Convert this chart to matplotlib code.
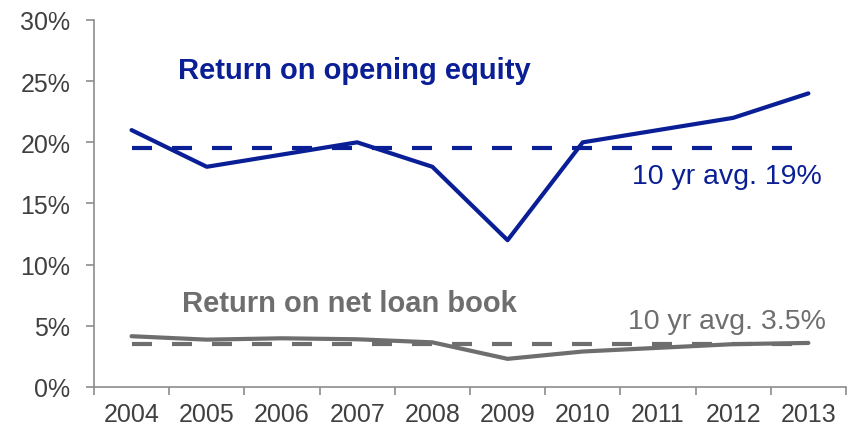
import numpy as np
import matplotlib
matplotlib.use("Agg")
import matplotlib.pyplot as plt
from matplotlib.ticker import FixedLocator, FuncFormatter

years = ["2004", "2005", "2006", "2007", "2008", "2009", "2010", "2011", "2012", "2013"]
equity_return = [21.0, 18.0, 19.0, 20.0, 18.0, 12.0, 20.0, 21.0, 22.0, 24.0]
loan_return = [4.15, 3.87, 3.98, 3.9, 3.65, 2.3, 2.9, 3.2, 3.5, 3.6]
equity_avg = np.mean(equity_return)
loan_avg = np.mean(loan_return)

BLUE = "#0a1e96"
GREY = "#6e6e6e"
AXIS = "#8c8c8c"
TEXT = "#404040"

plt.rcParams["font.family"] = ["Liberation Sans", "DejaVu Sans"]

fig = plt.figure(figsize=(8.48, 4.31), dpi=100)
ax = fig.add_axes([0.1108, 0.0998, 0.8868, 0.8515])

x = np.arange(len(years))
lw = 3.0
dash = (4.8, 4.8)

ax.plot(x, [equity_avg] * len(x), color=BLUE, lw=lw, dashes=dash, zorder=2)
ax.plot(x, equity_return, color=BLUE, lw=lw, solid_joinstyle="round",
        solid_capstyle="round", zorder=3)
ax.plot(x, [loan_avg] * len(x), color=GREY, lw=lw, dashes=dash, zorder=2)
ax.plot(x, loan_return, color=GREY, lw=lw, solid_joinstyle="round",
        solid_capstyle="round", zorder=3)

ax.set_xlim(-0.5, len(years) - 0.5)
ax.set_ylim(0, 30)

ax.set_yticks(np.arange(0, 31, 5))
ax.yaxis.set_major_formatter(FuncFormatter(lambda v, p: f"{v:.0f}%"))
ax.tick_params(axis="y", direction="out", length=6, width=1.2, color=AXIS,
               labelsize=18, labelcolor=TEXT, pad=11)

ax.set_xticks(x)
ax.set_xticklabels(years)
ax.xaxis.set_minor_locator(FixedLocator(np.arange(-0.5, len(years), 1.0)))
ax.tick_params(axis="x", which="major", length=0, labelsize=18,
               labelcolor=TEXT, pad=10.5)
ax.tick_params(axis="x", which="minor", direction="out", length=6,
               width=1.2, color=AXIS)

for side in ("top", "right"):
    ax.spines[side].set_visible(False)
for side in ("left", "bottom"):
    ax.spines[side].set_color(AXIS)
    ax.spines[side].set_linewidth(1.2)

ax.text(0.62, 25.26, "Return on opening equity", color=BLUE, fontsize=21,
        fontweight="bold", ha="left", va="baseline")
ax.text(6.65, 16.68, "10 yr avg. 19%", color=BLUE, fontsize=20.5,
        ha="left", va="baseline")
ax.text(0.67, 6.21, "Return on net loan book", color=GREY, fontsize=21,
        fontweight="bold", ha="left", va="baseline")
ax.text(6.6, 4.82, "10 yr avg. 3.5%", color=GREY, fontsize=20.5,
        ha="left", va="baseline")

fig.savefig("out.png", dpi=100)
